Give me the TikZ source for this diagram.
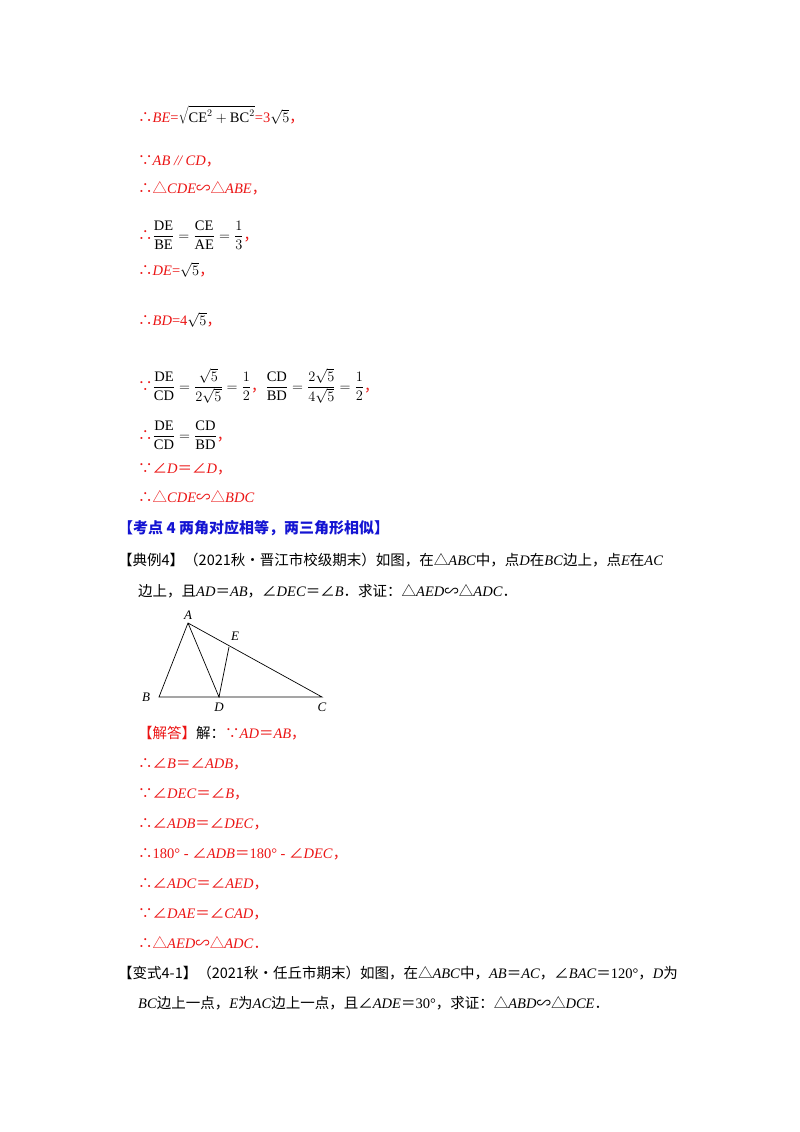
\documentclass[tikz,border=0pt]{standalone}
\usepackage{fontspec}
\setmainfont{Liberation Serif}
\newfontfamily\cjk{Noto Sans CJK SC}
\definecolor{rd}{RGB}{235,20,20}
\definecolor{bl}{RGB}{20,20,210}
\newcommand{\ther}{{\cjk ∴}}
\newcommand{\bec}{{\cjk ∵}}
\newcommand{\tri}{{\cjk △}}
\newcommand{\ang}{{\cjk ∠}}
\newcommand{\simi}{{\cjk ∽}}
\newcommand{\cm}{{\cjk ，}}
\newcommand{\pd}{{\cjk ．}}
\newcommand{\eq}{{\cjk ＝}}
\begin{document}
\begin{tikzpicture}[x=1pt,y=-1pt,
 t/.style={anchor=base west,inner sep=0pt,font=\fontsize{14.5}{17}\selectfont},
 r/.style={t,text=rd}]
\useasboundingbox (0,0) rectangle (800,1132);
\node[r] (l1) at (138,122) {\ther\textit{BE}=\textcolor{black}{$\displaystyle\sqrt{\mathrm{CE}^2+\mathrm{BC}^2}$}=3\textcolor{black}{$\sqrt{5}$}\cm};
\node[r] (l2) at (138,165) {\bec\textit{AB // CD}\cm};
\node[r] (l3) at (138,193) {\ther\tri\textit{CDE}\simi\tri\textit{ABE}\cm};
\node[r] (l4) at (138,240) {\ther\textcolor{black}{$\displaystyle\frac{\mathrm{DE}}{\mathrm{BE}}=\frac{\mathrm{CE}}{\mathrm{AE}}=\frac{1}{3}$}\cm};
\node[r] (l5) at (138,275) {\ther\textit{DE}=\textcolor{black}{$\sqrt{5}$}\cm};
\node[r] (l6) at (138,325) {\ther\textit{BD}=4\textcolor{black}{$\sqrt{5}$}\cm};
\node[r] (l7) at (138,391) {\bec\textcolor{black}{$\displaystyle\frac{\mathrm{DE}}{\mathrm{CD}}=\frac{\sqrt5}{2\sqrt5}=\frac12$}\cm\textcolor{black}{$\displaystyle\frac{\mathrm{CD}}{\mathrm{BD}}=\frac{2\sqrt5}{4\sqrt5}=\frac12$}\cm};
\node[r] (l8) at (138,440) {\ther\textcolor{black}{$\displaystyle\frac{\mathrm{DE}}{\mathrm{CD}}=\frac{\mathrm{CD}}{\mathrm{BD}}$}\cm};
\node[r] (l9) at (138,473) {\bec\ang\textit{D}\eq\ang\textit{D}\cm};
\node[r] (l10) at (138,502) {\ther\tri\textit{CDE}\simi\tri\textit{BDC}};
\node[t,text=bl,font=\fontsize{15}{17}\selectfont\bfseries] (h) at (118,533) {\cjk\bfseries 【考点 4 两角对应相等，两三角形相似】};
\node[t] (p1) at (118,565) {{\cjk 【典例4】（2021秋•晋江市校级期末）如图，在}\tri\textit{ABC}{\cjk 中，点}\textit{D}{\cjk 在}\textit{BC}{\cjk 边上，点}\textit{E}{\cjk 在}\textit{AC}};
\node[t] (p2) at (138,596) {{\cjk 边上，且}\textit{AD}\eq\textit{AB}\cm\ang\textit{DEC}\eq\ang\textit{B}{\cjk ．求证：}\tri\textit{AED}\simi\tri\textit{ADC}\pd};
% figure
\coordinate (A) at (188,623); \coordinate (B) at (159,697); \coordinate (D) at (219,697);
\coordinate (C) at (322,697); \coordinate (E) at (229,647);
\draw[line width=0.7pt] (A)--(B)--(C)--cycle (A)--(D)--(E);
\node[font=\itshape\fontsize{13}{13}\selectfont] (la) at (188,615) {A};
\node[font=\itshape\fontsize{13}{13}\selectfont] (le) at (235,636) {E};
\node[font=\itshape\fontsize{13}{13}\selectfont] (lb) at (146,697) {B};
\node[font=\itshape\fontsize{13}{13}\selectfont] (ld) at (219,707) {D};
\node[font=\itshape\fontsize{13}{13}\selectfont] (lc) at (322,707) {C};
\node[r] (s1) at (138,738) {{\cjk 【解答】}\textcolor{black}{\cjk 解：}\bec\textit{AD}\eq\textit{AB}\cm};
\node[r] (s2) at (138,768) {\ther\ang\textit{B}\eq\ang\textit{ADB}\cm};
\node[r] (s3) at (138,798) {\bec\ang\textit{DEC}\eq\ang\textit{B}\cm};
\node[r] (s4) at (138,828) {\ther\ang\textit{ADB}\eq\ang\textit{DEC}\cm};
\node[r] (s5) at (138,858) {\ther180° - \ang\textit{ADB}\eq180° - \ang\textit{DEC}\cm};
\node[r] (s6) at (138,888) {\ther\ang\textit{ADC}\eq\ang\textit{AED}\cm};
\node[r] (s7) at (138,918) {\bec\ang\textit{DAE}\eq\ang\textit{CAD}\cm};
\node[r] (s8) at (138,948) {\ther\tri\textit{AED}\simi\tri\textit{ADC}\pd};
\node[t] (q1) at (118,978) {{\cjk 【变式4-1】（2021秋•任丘市期末）如图，在}\tri\textit{ABC}{\cjk 中，}\textit{AB}\eq\textit{AC}\cm\ang\textit{BAC}\eq120°\cm\textit{D}{\cjk 为}};
\node[t] (q2) at (138,1008) {\textit{BC}{\cjk 边上一点，}\textit{E}{\cjk 为}\textit{AC}{\cjk 边上一点，且}\ang\textit{ADE}\eq30°{\cjk ，求证：}\tri\textit{ABD}\simi\tri\textit{DCE}\pd};
\end{tikzpicture}
\end{document}
